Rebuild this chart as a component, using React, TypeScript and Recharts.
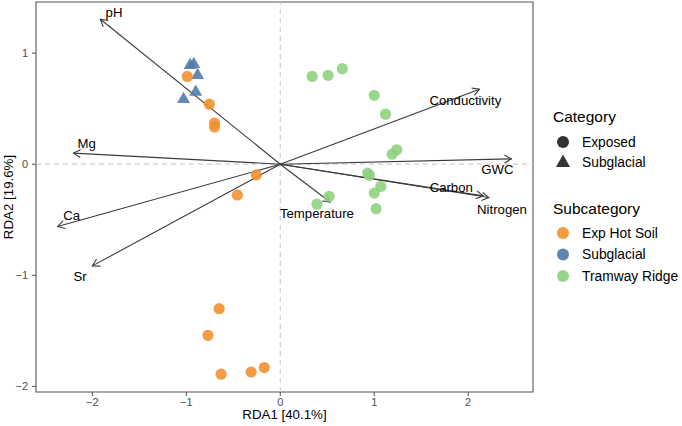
import React from 'react';
import { ScatterChart, Scatter, XAxis, YAxis, ReferenceLine, ReferenceArea } from 'recharts';

const expHotSoil = [
  { x: -0.99, y: 0.79 },
  { x: -0.755, y: 0.54 },
  { x: -0.70, y: 0.37 },
  { x: -0.70, y: 0.335 },
  { x: -0.255, y: -0.096 },
  { x: -0.457, y: -0.277 },
  { x: -0.65, y: -1.30 },
  { x: -0.77, y: -1.54 },
  { x: -0.63, y: -1.89 },
  { x: -0.31, y: -1.87 },
  { x: -0.17, y: -1.83 },
];

const subglacial = [
  { x: -0.96, y: 0.89 },
  { x: -0.92, y: 0.90 },
  { x: -0.88, y: 0.80 },
  { x: -0.90, y: 0.65 },
  { x: -1.03, y: 0.585 },
];

const tramwayRidge = [
  { x: 0.34, y: 0.79 },
  { x: 0.51, y: 0.80 },
  { x: 0.66, y: 0.86 },
  { x: 1.0, y: 0.62 },
  { x: 1.12, y: 0.45 },
  { x: 1.19, y: 0.09 },
  { x: 1.24, y: 0.13 },
  { x: 0.93, y: -0.08 },
  { x: 0.95, y: -0.10 },
  { x: 1.07, y: -0.20 },
  { x: 1.0, y: -0.26 },
  { x: 1.02, y: -0.40 },
  { x: 0.52, y: -0.29 },
  { x: 0.39, y: -0.36 },
];

const arrowTips = [
  { name: 'pH', x: -1.915, y: 1.305 },
  { name: 'Mg', x: -2.2, y: 0.10 },
  { name: 'Ca', x: -2.37, y: -0.56 },
  { name: 'Sr', x: -2.0, y: -0.915 },
  { name: 'Conductivity', x: 2.12, y: 0.675 },
  { name: 'GWC', x: 2.46, y: 0.048 },
  { name: 'Carbon', x: 2.16, y: -0.285 },
  { name: 'Nitrogen', x: 2.22, y: -0.30 },
  { name: 'Temperature', x: 0.53, y: -0.34 },
];

const arrowLabels = [
  { name: 'pH', x: -1.77, y: 1.37 },
  { name: 'Mg', x: -2.06, y: 0.19 },
  { name: 'Ca', x: -2.22, y: -0.46 },
  { name: 'Sr', x: -2.13, y: -1.01 },
  { name: 'Conductivity', x: 1.97, y: 0.57 },
  { name: 'GWC', x: 2.31, y: -0.045 },
  { name: 'Carbon', x: 1.82, y: -0.21 },
  { name: 'Nitrogen', x: 2.36, y: -0.41 },
  { name: 'Temperature', x: 0.39, y: -0.44 },
];

const xTicks = [-2, -1, 0, 1, 2];
const yTicks = [-2, -1, 0, 1];
const xDomain = [-2.6, 2.69];
const yDomain = [-2.05, 1.46];

const xTitle = 'RDA1 [40.1%]';
const yTitle = 'RDA2 [19.6%]';

const categoryTitle = 'Category';
const categoryItems = [
  { label: 'Exposed', shape: 'circle' },
  { label: 'Subglacial', shape: 'triangle' },
];
const subcategoryTitle = 'Subcategory';
const subcategoryItems = [
  { label: 'Exp Hot Soil', color: '#F28E2B' },
  { label: 'Subglacial', color: '#4E79A7' },
  { label: 'Tramway Ridge', color: '#8CD17D' },
];

const FONT = 'Liberation Sans, Arial, Helvetica, sans-serif';
const ARROW_COLOR = '#3a3a3a';

const colorOf = (label: string) => subcategoryItems.find((s) => s.label === label)!.color;
const fmtTick = (v: number) => (v < 0 ? '\u2212' + Math.abs(v) : String(v));

const circleShape = (color: string) => (props: any) => {
  const { cx, cy } = props;
  if (cx == null || cy == null) return <g />;
  return <circle cx={cx} cy={cy} r={5.6} fill={color} fillOpacity={0.88} />;
};

const triangleShape = (color: string) => (props: any) => {
  const { cx, cy } = props;
  if (cx == null || cy == null) return <g />;
  const s = 13;
  const h = s * 0.866;
  const pts = `${cx},${cy - (2 * h) / 3} ${cx - s / 2},${cy + h / 3} ${cx + s / 2},${cy + h / 3}`;
  return <polygon points={pts} fill={color} fillOpacity={0.88} />;
};

const labelShape = (props: any) => {
  const { cx, cy, payload } = props;
  if (cx == null || cy == null) return <g />;
  return (
    <text x={cx} y={cy} textAnchor="middle" dominantBaseline="central" fontSize={13.2} fontFamily={FONT} fill="#000">
      {payload.name}
    </text>
  );
};

const arrowShape = (props: any) => {
  const { x1, y1, x2, y2 } = props;
  const ang = Math.atan2(y2 - y1, x2 - x1);
  const L = 8;
  const a = Math.PI / 6;
  const p1x = x2 - L * Math.cos(ang - a);
  const p1y = y2 - L * Math.sin(ang - a);
  const p2x = x2 - L * Math.cos(ang + a);
  const p2y = y2 - L * Math.sin(ang + a);
  return (
    <g>
      <line x1={x1} y1={y1} x2={x2} y2={y2} stroke={ARROW_COLOR} strokeWidth={1.1} />
      <polyline points={`${p1x},${p1y} ${x2},${y2} ${p2x},${p2y}`} fill="none" stroke={ARROW_COLOR} strokeWidth={1.1} />
    </g>
  );
};

export default function App() {
  return (
    <div style={{ position: 'absolute', left: 0, top: 0, width: 682, height: 426, background: '#fff' }}>
      <ScatterChart width={682} height={426} margin={{ top: 2, right: 149, bottom: 0, left: 0 }}>
        <XAxis
          type="number"
          dataKey="x"
          domain={xDomain}
          ticks={xTicks}
          tickFormatter={fmtTick}
          allowDataOverflow
          height={34}
          tickSize={4}
          tickMargin={2}
          axisLine={false}
          tickLine={{ stroke: '#4d4d4d' }}
          tick={{ fill: '#4d4d4d', fontSize: 11, fontFamily: FONT }}
        />
        <YAxis
          type="number"
          dataKey="y"
          domain={yDomain}
          ticks={yTicks}
          tickFormatter={fmtTick}
          allowDataOverflow
          width={36}
          tickSize={4}
          tickMargin={4}
          axisLine={false}
          tickLine={{ stroke: '#4d4d4d' }}
          tick={{ fill: '#4d4d4d', fontSize: 11, fontFamily: FONT }}
        />
        <ReferenceLine x={0} stroke="#cfcfcf" strokeDasharray="5 4" strokeWidth={1.2} />
        <ReferenceLine y={0} stroke="#cfcfcf" strokeDasharray="5 4" strokeWidth={1.2} />
        <Scatter name="Subglacial" data={subglacial} isAnimationActive={false} shape={triangleShape(colorOf('Subglacial'))} />
        <Scatter name="Exp Hot Soil" data={expHotSoil} isAnimationActive={false} shape={circleShape(colorOf('Exp Hot Soil'))} />
        <Scatter name="Tramway Ridge" data={tramwayRidge} isAnimationActive={false} shape={circleShape(colorOf('Tramway Ridge'))} />
        {arrowTips.map((t) => (
          <ReferenceLine
            key={t.name}
            segment={[{ x: 0, y: 0 }, { x: t.x, y: t.y }]}
            shape={arrowShape}
            ifOverflow="visible"
          />
        ))}
        <Scatter name="labels" data={arrowLabels} isAnimationActive={false} shape={labelShape} />
        <ReferenceArea
          x1={xDomain[0]}
          x2={xDomain[1]}
          y1={yDomain[0]}
          y2={yDomain[1]}
          fill="none"
          stroke="#555"
          strokeWidth={1.1}
          ifOverflow="visible"
        />
      </ScatterChart>
      <svg
        width={682}
        height={426}
        style={{ position: 'absolute', left: 0, top: 0, pointerEvents: 'none' }}
        fontFamily={FONT}
      >
        <text x={284.5} y={418.5} textAnchor="middle" fontSize={13.3} fill="#000">{xTitle}</text>
        <text x={13} y={197} textAnchor="middle" fontSize={13.3} fill="#000" transform="rotate(-90 13 197)">{yTitle}</text>
        <text x={553} y={121.5} fontSize={15.5} fill="#000">{categoryTitle}</text>
        {categoryItems.map((it, i) => {
          const cy = 142 + i * 20;
          return (
            <g key={it.label}>
              {it.shape === 'circle' ? (
                <circle cx={563} cy={cy} r={6} fill="#333" />
              ) : (
                <polygon points={`563,${cy - 7.5} ${556},${cy + 5} ${570},${cy + 5}`} fill="#333" />
              )}
              <text x={582} y={cy + 4.8} fontSize={13.8} fill="#000">{it.label}</text>
            </g>
          );
        })}
        <text x={553} y={214} fontSize={15.5} fill="#000">{subcategoryTitle}</text>
        {subcategoryItems.map((it, i) => {
          const cy = 233 + i * 21.5;
          return (
            <g key={it.label}>
              <circle cx={563} cy={cy} r={6} fill={it.color} fillOpacity={0.9} />
              <text x={582} y={cy + 4.8} fontSize={13.8} fill="#000">{it.label}</text>
            </g>
          );
        })}
      </svg>
    </div>
  );
}
